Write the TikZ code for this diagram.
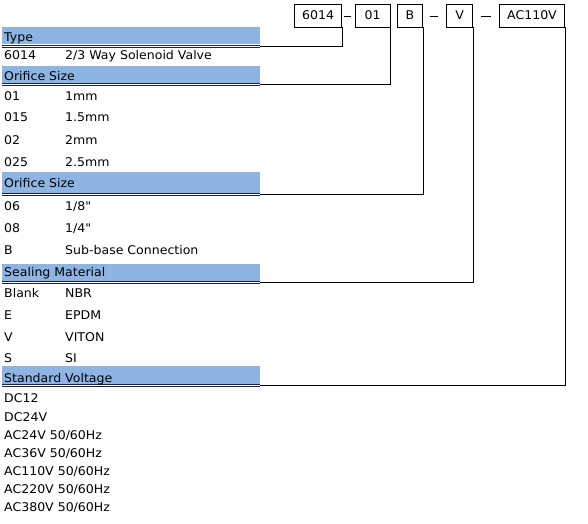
\documentclass[tikz,border=0pt]{standalone}
\usepackage{fontspec}
\setmainfont{DejaVu Sans}[FakeStretch=1.045, Ligatures=TeXOff]
\definecolor{barblue}{RGB}{141,180,226}
\definecolor{rulenavy}{RGB}{25,35,65}
\begin{document}
\begin{tikzpicture}[x=1pt,y=-1pt,
  font=\fontsize{12}{14}\selectfont,
  codebox/.style={draw=black, line width=0.9pt, minimum height=23pt, inner sep=0pt, anchor=center},
  hbar/.style={fill=barblue, draw=none, minimum width=258pt, anchor=north west, inner sep=0pt},
  navyline/.style={draw=rulenavy, line width=0.8pt},
  conn/.style={draw=black, line width=0.9pt},
  txt/.style={anchor=base west, inner sep=0pt}]
\useasboundingbox (0,0) rectangle (588,523);

% top code boxes
\node[codebox, minimum width=47.2pt] (b6014) at (318.1,15.5) {6014};
\node[codebox, minimum width=35pt] (b01) at (372.5,15.5) {01};
\node[codebox, minimum width=25.4pt] (bB) at (410,15.5) {B};
\node[codebox, minimum width=26pt] (bV) at (459.7,15.5) {V};
\node[codebox, minimum width=65.4pt] (bAC) at (532,15.5) {AC110V};
\coordinate (d1a) at (343.5,16); \coordinate (d1b) at (350.5,16);
\coordinate (d2a) at (429.5,16); \coordinate (d2b) at (438,16);
\coordinate (d3a) at (481,16); \coordinate (d3b) at (490.5,16);
\draw[conn] (d1a) -- (d1b);
\draw[conn] (d2a) -- (d2b);
\draw[conn] (d3a) -- (d3b);

% header bars
\node[hbar, minimum height=17.5pt] (hType) at (2,26.7) {};
\node[hbar, minimum height=16.5pt] (hOr1) at (2,66) {};
\node[hbar, minimum height=20.5pt] (hOr2) at (2,172) {};
\node[hbar, minimum height=16.5pt] (hSeal) at (2,264) {};
\node[hbar, minimum height=17.5pt] (hVolt) at (2,366) {};

\foreach \h in {hType,hOr1,hOr2,hSeal,hVolt}{
  \draw[navyline] ([yshift=-0.5pt]\h.south west) -- ([yshift=-0.5pt]\h.south east);
  \draw[navyline] ([yshift=-2.5pt]\h.south west) -- ([yshift=-2.5pt]\h.south east);
}

% connectors
\draw[conn] ([yshift=-1.5pt]hType.south east) -| (b6014.south east);
\draw[conn] ([yshift=-1.5pt]hOr1.south east) -| (b01.south east);
\draw[conn] ([yshift=-1.5pt]hOr2.south east) -| (bB.south east);
\draw[conn] ([yshift=-1.5pt]hSeal.south east) -| (bV.south east);
\draw[conn] ([yshift=-1.5pt]hVolt.south east) -| (bAC.south east);

% header texts
\node[txt] (tType) at (4,41) {Type};
\node[txt] (tOr1) at (4,80) {Orifice Size};
\node[txt] (tOr2) at (4,187.7) {Orifice Size};
\node[txt] (tSeal) at (4,276.7) {Sealing Material};
\node[txt] (tVolt) at (4,382) {Standard Voltage};

% rows
\node[txt] (r1a) at (4,59.3) {6014};   \node[txt] (r1b) at (65,59.3) {2/3 Way Solenoid Valve};
\node[txt] (r2a) at (4,100.7) {01};    \node[txt] (r2b) at (65,100.7) {1mm};
\node[txt] (r3a) at (4,121.7) {015};   \node[txt] (r3b) at (65,121.7) {1.5mm};
\node[txt] (r4a) at (4,144.3) {02};    \node[txt] (r4b) at (65,144.3) {2mm};
\node[txt] (r5a) at (4,166) {025};     \node[txt] (r5b) at (65,166) {2.5mm};
\node[txt] (r6a) at (4,210.7) {06};    \node[txt] (r6b) at (65,210.7) {1/8\symbol{34}};
\node[txt] (r7a) at (4,232.7) {08};    \node[txt] (r7b) at (65,232.7) {1/4\symbol{34}};
\node[txt] (r8a) at (4,254) {B};       \node[txt] (r8b) at (65,254) {Sub-base Connection};
\node[txt] (r9a) at (4,297.3) {Blank}; \node[txt] (r9b) at (65,297.3) {NBR};
\node[txt] (r10a) at (4,319.3) {E};    \node[txt] (r10b) at (65,319.3) {EPDM};
\node[txt] (r11a) at (4,341) {V};      \node[txt] (r11b) at (65,341) {VITON};
\node[txt] (r12a) at (4,362.7) {S};    \node[txt] (r12b) at (65,362.7) {SI};
\node[txt] (v1) at (4,402.7) {DC12};
\node[txt] (v2) at (4,421) {DC24V};
\node[txt] (v3) at (4,439) {AC24V 50/60Hz};
\node[txt] (v4) at (4,457.3) {AC36V 50/60Hz};
\node[txt] (v5) at (4,475.3) {AC110V 50/60Hz};
\node[txt] (v6) at (4,493.7) {AC220V 50/60Hz};
\node[txt] (v7) at (4,511.7) {AC380V 50/60Hz};
\end{tikzpicture}
\end{document}
